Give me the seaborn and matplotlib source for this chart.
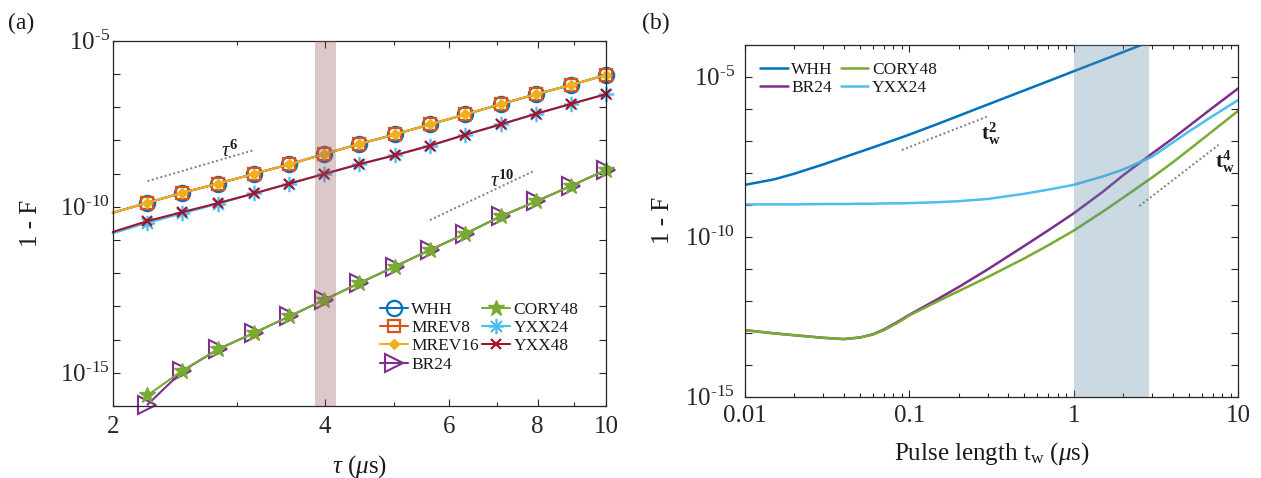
import numpy as np
import matplotlib
matplotlib.use("Agg")
import matplotlib.pyplot as plt
from matplotlib.ticker import FixedLocator, FuncFormatter, NullFormatter, NullLocator
import seaborn as sns

# ---------------- panel (a): infidelity vs. cycle time ----------------
tau_us = [2.00, 2.24, 2.51, 2.82, 3.17, 3.56, 3.99, 4.47, 5.02, 5.63,
          6.32, 7.09, 7.96, 8.93, 10.0]

whh_a = [6.6e-11, 1.32e-10, 2.63e-10, 5.0e-10, 9.8e-10, 1.91e-9, 3.89e-9,
         7.76e-9, 1.51e-8, 3.02e-8, 6.03e-8, 1.23e-7, 2.45e-7, 4.68e-7, 9.33e-7]
mrev8_a = [6.6e-11, 1.32e-10, 2.63e-10, 5.0e-10, 9.8e-10, 1.91e-9, 3.89e-9,
           7.76e-9, 1.51e-8, 3.02e-8, 6.03e-8, 1.23e-7, 2.45e-7, 4.68e-7, 9.33e-7]
mrev16_a = [6.6e-11, 1.32e-10, 2.63e-10, 5.0e-10, 9.8e-10, 1.91e-9, 3.89e-9,
            7.76e-9, 1.51e-8, 3.02e-8, 6.03e-8, 1.23e-7, 2.45e-7, 4.68e-7, 9.33e-7]
yxx24_a = [1.58e-11, 3.31e-11, 6.31e-11, 1.23e-10, 2.51e-10, 5.01e-10, 9.77e-10,
           1.91e-9, 3.55e-9, 6.92e-9, 1.48e-8, 3.02e-8, 6.31e-8, 1.26e-7, 2.45e-7]
yxx48_a = [1.74e-11, 3.72e-11, 6.92e-11, 1.29e-10, 2.51e-10, 5.01e-10, 9.77e-10,
           1.91e-9, 3.55e-9, 6.92e-9, 1.48e-8, 3.02e-8, 6.31e-8, 1.26e-7, 2.45e-7]
# BR24 / CORY48 start from the second cycle time
br24_a = [1.10e-16, 1.12e-15, 5.13e-15, 1.58e-14, 5.01e-14, 1.58e-13, 5.01e-13,
          1.58e-12, 5.01e-12, 1.55e-11, 5.13e-11, 1.45e-10, 4.27e-10, 1.29e-9]
cory48_a = [2.09e-16, 1.17e-15, 5.13e-15, 1.58e-14, 5.01e-14, 1.58e-13, 5.01e-13,
            1.58e-12, 5.01e-12, 1.55e-11, 5.13e-11, 1.45e-10, 4.27e-10, 1.29e-9]

band_a = (3.87, 4.14)
guide_tau6_x = [2.24, 3.16]
guide_tau6_y = [5.9e-10, 5.0e-9]
guide_tau10_x = [5.63, 7.92]
guide_tau10_y = [3.98e-11, 1.22e-9]

# ---------------- panel (b): infidelity vs. pulse length ----------------
tw_us = [0.01, 0.015, 0.02, 0.03, 0.04, 0.05, 0.06, 0.07, 0.085, 0.1, 0.15,
         0.2, 0.3, 0.5, 0.7, 1.0, 1.5, 2.0, 3.0, 4.0, 5.0, 7.0, 10.0]

whh_b = [4.17e-9, 6.17e-9, 9.33e-9, 1.82e-8, 3.02e-8, 4.47e-8, 6.17e-8,
         8.13e-8, 1.15e-7, 1.55e-7, 3.39e-7, 6.03e-7, 1.35e-6, 3.72e-6,
         7.24e-6, 1.48e-5, 3.31e-5, 5.89e-5, 1.32e-4]
br24_b = [1.20e-13, 9.55e-14, 8.32e-14, 6.92e-14, 6.31e-14, 7.08e-14, 8.91e-14,
          1.26e-13, 2.19e-13, 3.63e-13, 1.15e-12, 2.69e-12, 9.55e-12, 5.13e-11,
          1.58e-10, 5.37e-10, 2.51e-9, 8.32e-9, 3.98e-8, 1.17e-7, 2.82e-7,
          1.07e-6, 4.27e-6]
cory48_b = [1.20e-13, 9.55e-14, 8.32e-14, 6.92e-14, 6.31e-14, 7.08e-14, 8.71e-14,
            1.20e-13, 2.04e-13, 3.47e-13, 9.77e-13, 2.00e-12, 5.50e-12, 2.09e-11,
            5.37e-11, 1.55e-10, 6.03e-10, 1.66e-9, 7.08e-9, 2.09e-8, 5.13e-8,
            2.00e-7, 8.51e-7]
yxx24_b = [1.02e-9, 1.02e-9, 1.02e-9, 1.05e-9, 1.05e-9, 1.07e-9, 1.07e-9,
           1.10e-9, 1.10e-9, 1.12e-9, 1.20e-9, 1.29e-9, 1.51e-9, 2.19e-9,
           2.95e-9, 4.17e-9, 7.59e-9, 1.26e-8, 3.16e-8, 8.71e-8, 1.91e-7,
           5.89e-7, 1.86e-6]

band_b = (1.0, 2.88)
guide_t2_x = [0.09, 0.296]
guide_t2_y = [5.13e-8, 5.62e-7]
guide_t4_x = [2.51, 7.62]
guide_t4_y = [9.12e-10, 7.41e-8]

C_BLUE, C_ORANGE, C_YELLOW = "#0072BD", "#D95319", "#EDB120"
C_PURPLE, C_GREEN, C_CYAN, C_RED = "#7E2F8E", "#77AC30", "#4DBEEE", "#A2142F"
INK = "#262626"
GUIDE = "#7f7f7f"

sns.set_theme(style="ticks")
plt.rcParams.update({
    "font.family": ["Liberation Serif", "DejaVu Serif"],
    "mathtext.fontset": "custom",
    "mathtext.rm": "Liberation Serif",
    "mathtext.it": "Liberation Serif:italic",
    "mathtext.bf": "Liberation Serif:bold",
    "axes.edgecolor": INK,
    "axes.linewidth": 0.9,
    "text.color": "#1a1a1a",
    "axes.labelcolor": "#1a1a1a",
    "xtick.color": INK,
    "ytick.color": INK,
})

fig = plt.figure(figsize=(12.61, 4.78), dpi=100)
ax1 = fig.add_axes([0.0894, 0.1506, 0.3912, 0.7642])
ax2 = fig.add_axes([0.5908, 0.1701, 0.3910, 0.7364])
for ax in (ax1, ax2):
    ax.set_xscale("log")
    ax.set_yscale("log")


def curve(ax, x, y, color, **kw):
    sns.lineplot(x=x, y=y, ax=ax, color=color, errorbar=None, sort=False,
                 legend=False, **kw)
    return ax.lines[-1]


def guide(ax, x, y):
    sns.lineplot(x=x, y=y, ax=ax, color=GUIDE, lw=1.4, errorbar=None,
                 legend=False)
    ax.lines[-1].set_linestyle((0, (1, 1.3)))


# ---- panel (a) curves ----
every = slice(1, None)
h_whh = curve(ax1, tau_us, whh_a, C_BLUE, lw=1.5, marker="o", ms=11,
              mfc="none", mec=C_BLUE, mew=1.6, markevery=every, clip_on=False)
h_m8 = curve(ax1, tau_us, mrev8_a, C_ORANGE, lw=1.5, marker="s", ms=8,
             mfc="none", mec=C_ORANGE, mew=1.6, markevery=every, clip_on=False)
h_m16 = curve(ax1, tau_us, mrev16_a, C_YELLOW, lw=1.5, marker="D", ms=5,
              mfc=C_YELLOW, mec=C_YELLOW, mew=1.0, markevery=every, clip_on=False)
h_br = curve(ax1, tau_us[1:], br24_a, C_PURPLE, lw=1.5, marker=">", ms=13,
             mfc="none", mec=C_PURPLE, mew=1.5, clip_on=False)
h_cory = curve(ax1, tau_us[1:], cory48_a, C_GREEN, lw=1.5, marker="*", ms=12,
               mfc=C_GREEN, mec=C_GREEN, mew=1.0, clip_on=False)
h_y24 = curve(ax1, tau_us, yxx24_a, C_CYAN, lw=1.5, marker=(8, 2, 0), ms=11,
              mfc=C_CYAN, mec=C_CYAN, mew=1.2, markevery=every, clip_on=False)
h_y48 = curve(ax1, tau_us, yxx48_a, C_RED, lw=1.5, marker="x", ms=7,
              mfc=C_RED, mec=C_RED, mew=1.6, markevery=every, clip_on=False)

guide(ax1, guide_tau6_x, guide_tau6_y)
guide(ax1, guide_tau10_x, guide_tau10_y)
ax1.text(2.85, 3.3e-9, r"$\tau^{\mathbf{6}}$", fontsize=15, ha="left", va="baseline")
ax1.text(6.85, 3.9e-10, r"$\tau^{\mathbf{10}}$", fontsize=15, ha="left", va="baseline")

ax1.axvspan(*band_a, color="#96565c", alpha=0.33, lw=0, zorder=3)

ax1.set_xlim(2, 10)
ax1.set_ylim(1e-16, 1e-5)
ax1.xaxis.set_major_locator(FixedLocator([2, 4, 6, 8, 10]))
ax1.xaxis.set_major_formatter(FuncFormatter(lambda v, p: f"{v:g}"))
ax1.xaxis.set_minor_locator(FixedLocator([3, 5, 7, 9]))
ax1.xaxis.set_minor_formatter(NullFormatter())

ax1.legend([h_whh, h_m8, h_m16, h_br, h_cory, h_y24, h_y48],
           ["WHH", "MREV8", "MREV16", "BR24", "CORY48", "YXX24", "YXX48"],
           ncol=2, loc="upper left", bbox_to_anchor=(0.542, 0.2855),
           frameon=False, fontsize=12.5, handlelength=1.6,
           handletextpad=0.2, columnspacing=0.2, labelspacing=0.12,
           borderpad=0, borderaxespad=0, numpoints=1)

# ---- panel (b) curves ----
h_whh_b = curve(ax2, tw_us[:len(whh_b)], whh_b, C_BLUE, lw=1.8)
h_br_b = curve(ax2, tw_us, br24_b, C_PURPLE, lw=1.8)
h_cory_b = curve(ax2, tw_us, cory48_b, C_GREEN, lw=1.8)
h_y24_b = curve(ax2, tw_us, yxx24_b, C_CYAN, lw=1.8)

guide(ax2, guide_t2_x, guide_t2_y)
guide(ax2, guide_t4_x, guide_t4_y)
ax2.text(0.273, 1.05e-7, r"$\mathbf{t}_{\mathbf{w}}^{\mathbf{2}}$", fontsize=15,
         ha="left", va="baseline")
ax2.text(7.25, 1.41e-8, r"$\mathbf{t}_{\mathbf{w}}^{\mathbf{4}}$", fontsize=15,
         ha="left", va="baseline")

ax2.axvspan(*band_b, color="#5a8aa5", alpha=0.32, lw=0, zorder=3)

ax2.set_xlim(0.01, 10)
ax2.set_ylim(1e-15, 1e-4)
ax2.xaxis.set_major_locator(FixedLocator([0.01, 0.1, 1, 10]))
ax2.xaxis.set_major_formatter(FuncFormatter(lambda v, p: f"{v:g}"))
ax2.xaxis.set_minor_locator(FixedLocator(
    [m * d for d in (0.01, 0.1, 1) for m in range(2, 10)]))
ax2.xaxis.set_minor_formatter(NullFormatter())

ax2.legend([h_whh_b, h_br_b, h_cory_b, h_y24_b], ["WHH", "BR24", "CORY48", "YXX24"],
           ncol=2, loc="upper left", bbox_to_anchor=(0.0304, 0.951),
           frameon=False, fontsize=12.5, handlelength=1.6, handletextpad=0.2,
           columnspacing=0.45, labelspacing=0.12, borderpad=0, borderaxespad=0)


# ---- shared axis styling ----
def decade_label(shown):
    def fmt(v, pos):
        e = int(round(np.log10(v)))
        if e not in shown:
            return ""
        return "$\\mathregular{10^{\u2010%d}}$" % (-e)
    return FuncFormatter(fmt)


for ax, lo, hi, ypad, xpad in ((ax1, -16, -5, 2, 7), (ax2, -15, -4, 7, 6)):
    ax.yaxis.set_major_locator(FixedLocator([10.0 ** e for e in range(lo, hi + 1)]))
    ax.yaxis.set_major_formatter(decade_label((-15, -10, -5)))
    ax.yaxis.set_minor_locator(NullLocator())
    ax.tick_params(which="both", direction="in", top=True, right=True,
                   width=0.8, labelsize=18)
    ax.tick_params(which="major", length=5)
    ax.tick_params(which="minor", length=3)
    ax.tick_params(axis="y", pad=ypad)
    ax.tick_params(axis="x", pad=xpad)
    for s in ax.spines.values():
        s.set_visible(True)
        s.set_color(INK)
        s.set_linewidth(0.9)
    ax.set_ylabel("1 - F", fontsize=18)
    ax.yaxis.set_label_coords(-0.143, 0.5)

ax1.set_xlabel(r"$\tau$ ($\mu$s)", fontsize=18)
ax1.xaxis.set_label_coords(0.5, -0.181)
ax1.xaxis.label.set_va("baseline")
ax2.set_xlabel(r"Pulse length t$_{\mathregular{w}}$ ($\mu$s)", fontsize=18)
ax2.xaxis.set_label_coords(0.5, -0.180)
ax2.xaxis.label.set_va("baseline")

fig.text(8 / 1261, 1 - 29 / 478, "(a)", fontsize=17, va="baseline", ha="left")
fig.text(642 / 1261, 1 - 29 / 478, "(b)", fontsize=17, va="baseline", ha="left")

fig.savefig("out.png", dpi=100)
